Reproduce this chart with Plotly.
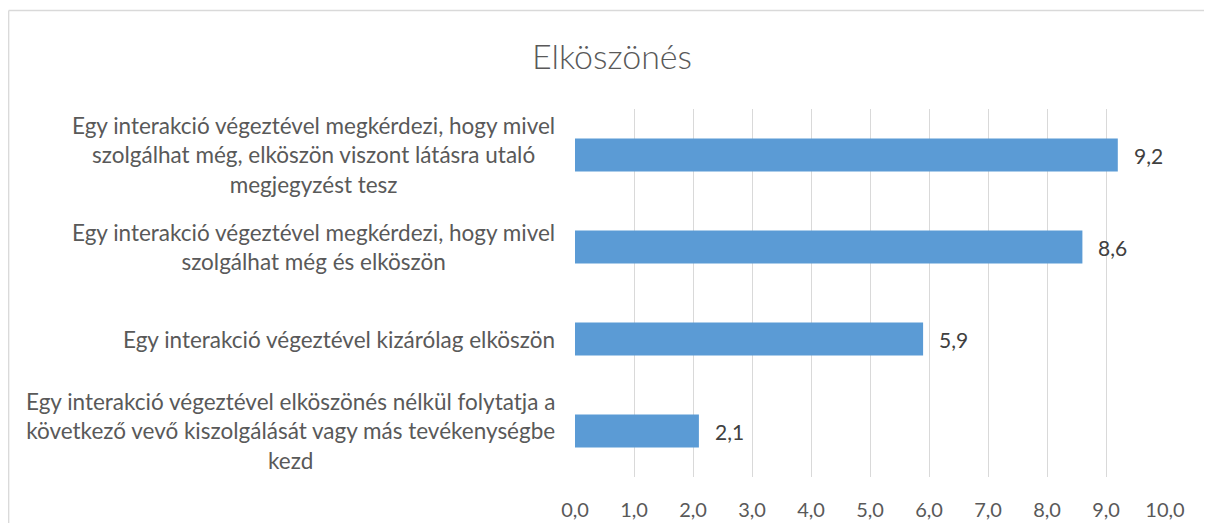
import plotly.graph_objects as go

categories = [
    "Egy interakció végeztével elköszönés nélkül folytatja a<br>következő vevő kiszolgálását vagy más tevékenységbe<br>kezd",
    "Egy interakció végeztével kizárólag elköszön",
    "Egy interakció végeztével megkérdezi, hogy mivel<br>szolgálhat még és elköszön",
    "Egy interakció végeztével megkérdezi, hogy mivel<br>szolgálhat még, elköszön viszont látásra utaló<br>megjegyzést tesz",
]
values = [2.1, 5.9, 8.6, 9.2]
tick_vals = [0, 1, 2, 3, 4, 5, 6, 7, 8, 9, 10]
tick_text = ["0,0", "1,0", "2,0", "3,0", "4,0", "5,0", "6,0", "7,0", "8,0", "9,0", "10,0"]
title_text = "Elköszönés"

FONT = "Lato"
TXT = "#595959"
OFF = 8  # default page body margin offset
W, H = 1212 - OFF, 531 - 2 * OFF
L, R, T, B = 575 - OFF, 1165 - OFF, 109 - OFF, 477 - OFF

fig = go.Figure(go.Bar(
    x=values, y=categories, orientation="h",
    marker=dict(color="#5B9BD5", line=dict(width=0)),
    hoverinfo="skip",
))

annotations = []
for c in categories:
    annotations.append(dict(
        x=0, y=c, xref="paper", yref="y", text=c, showarrow=False,
        xanchor="right", yanchor="middle", align="center", xshift=-18,
        font=dict(family=FONT, size=22.5, color=TXT),
    ))
for c, v in zip(categories, values):
    annotations.append(dict(
        x=v, y=c, xref="x", yref="y", text=f"{v:.1f}".replace(".", ","),
        showarrow=False, xanchor="left", yanchor="middle", xshift=14,
        font=dict(family=FONT, size=21, color="#404040"),
    ))

pw, ph = R - L, B - T
border = dict(color="#D9D9D9", width=1.3)
fig.update_layout(
    width=W, height=H,
    margin=dict(l=L, r=W - R, t=T, b=H - B, pad=0, autoexpand=False),
    paper_bgcolor="white", plot_bgcolor="white",
    bargap=0.64,
    showlegend=False,
    separators=", ",
    title=dict(text=title_text, x=(612 - OFF) / W, xref="container", xanchor="center",
               y=1 - (57 - OFF) / H, yref="container", yanchor="middle",
               font=dict(family=FONT, size=34, color=TXT, weight=300)),
    xaxis=dict(range=[0, 10], tickvals=tick_vals, ticktext=tick_text,
               showgrid=True, gridcolor="#D9D9D9", gridwidth=1.3,
               zeroline=False, showline=False, ticks="", automargin=False,
               ticklabelstandoff=19,
               tickfont=dict(family=FONT, size=20, color=TXT), fixedrange=True),
    yaxis=dict(showticklabels=False, showgrid=False, zeroline=False, automargin=False,
               showline=False, ticks="", fixedrange=True),
    annotations=annotations,
    shapes=[
        dict(type="line", xref="paper", yref="paper",
             x0=(0.7 - L) / pw, x1=(W + 20 - L) / pw,
             y0=(B - 2.5) / ph, y1=(B - 2.5) / ph, line=border, layer="below"),
        dict(type="line", xref="paper", yref="paper",
             x0=(0.7 - L) / pw, x1=(0.7 - L) / pw,
             y0=(B - 2.5) / ph, y1=(B - H - 20) / ph, line=border, layer="below"),
    ],
)

fig.write_html("out.html")
